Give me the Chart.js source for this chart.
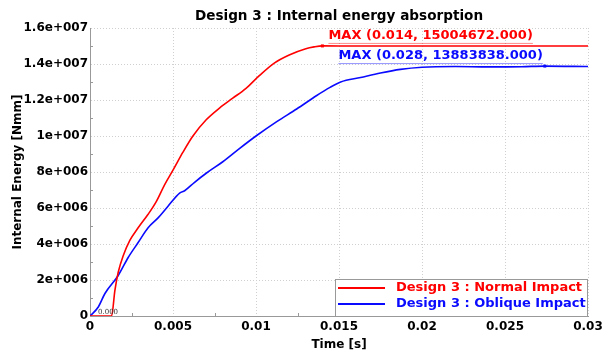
<!DOCTYPE html>
<html lang="en">
<head>
<meta charset="UTF-8">
<title>Design 3 : Internal energy absorption</title>
<script src="https://cdn.jsdelivr.net/npm/chart.js"></script>
<style>
  html, body { margin: 0; padding: 0; background: #fff; }
  #wrap { width: 602px; height: 356px; }
</style>
</head>
<body>
<div id="wrap"><canvas id="energyChart" width="602" height="356"></canvas></div>
<script>
// values (time in s, energy in Nmm)
const normalTime = [0, 0.0013, 0.0015, 0.0017, 0.002, 0.0024, 0.0029, 0.0035, 0.004, 0.0045, 0.005, 0.0056, 0.0062, 0.007, 0.0078, 0.0086, 0.0094, 0.0102, 0.0111, 0.012, 0.013, 0.0135, 0.014, 0.016, 0.02, 0.025, 0.03];
const normalEnergy = [0, 0, 1.43e6, 2.43e6, 3.35e6, 4.2e6, 4.9e6, 5.65e6, 6.37e6, 7.3e6, 8.1e6, 9.1e6, 10.0e6, 10.9e6, 11.55e6, 12.1e6, 12.65e6, 13.35e6, 14.05e6, 14.5e6, 14.85e6, 14.95e6, 15004672, 15.0e6, 15.0e6, 15.0e6, 15.0e6];

const obliqueTime = [0, 0.0005, 0.0009, 0.0017, 0.0023, 0.0029, 0.0035, 0.0041, 0.0047, 0.0054, 0.0057, 0.0063, 0.007, 0.008, 0.009, 0.01, 0.01125, 0.01245, 0.01366, 0.01446, 0.0151, 0.0163, 0.0175, 0.0187, 0.02, 0.022, 0.024, 0.026, 0.0274, 0.03];
const obliqueEnergy = [0, 0.5e6, 1.25e6, 2.25e6, 3.25e6, 4.08e6, 4.9e6, 5.45e6, 6.1e6, 6.83e6, 6.96e6, 7.43e6, 7.93e6, 8.57e6, 9.3e6, 10.0e6, 10.8e6, 11.5e6, 12.25e6, 12.7e6, 13.0e6, 13.25e6, 13.5e6, 13.7e6, 13.82e6, 13.86e6, 13.84e6, 13.85e6, 13883838, 13.86e6];

const seriesNames = ['Design 3 : Normal Impact', 'Design 3 : Oblique Impact'];
const maxLabels = ['MAX (0.014, 15004672.000)', 'MAX (0.028, 13883838.000)'];
const chartTitle = 'Design 3 : Internal energy absorption';

const xTicks = [0, 0.005, 0.01, 0.015, 0.02, 0.025, 0.03];
const xTickLabels = ['0', '0.005', '0.01', '0.015', '0.02', '0.025', '0.03'];
const yTicks = [0, 2e6, 4e6, 6e6, 8e6, 10e6, 12e6, 14e6, 16e6];
const yTickLabels = ['0', '2e+006', '4e+006', '6e+006', '8e+006', '1e+007', '1.2e+007', '1.4e+007', '1.6e+007'];

const FONT = 'DejaVu Sans, Verdana, sans-serif';
const colors = ['#ff0000', '#0a0aff'];

function toPoints(xs, ys) {
    return xs.map((x, i) => ({ x: x, y: ys[i] }));
}

// title centred over the plot area rather than the canvas
const plotTitlePlugin = {
    id: 'plotTitle',
    afterDraw(chart) {
        const ctx = chart.ctx;
        const area = chart.chartArea;
        ctx.save();
        ctx.font = 'bold 13.6px ' + FONT;
        ctx.fillStyle = '#000';
        ctx.textAlign = 'center';
        ctx.textBaseline = 'middle';
        ctx.fillText(chartTitle, (area.left + area.right) / 2, 16);
        ctx.restore();
    }
};

// max markers with underlined labels, plus the little "0.000" note at the origin
const maxLabelPlugin = {
    id: 'maxLabels',
    afterDatasetsDraw(chart) {
        const ctx = chart.ctx;
        const xs = chart.scales.x, ys = chart.scales.y;
        ctx.save();
        ctx.font = 'bold 13px ' + FONT;
        ctx.textBaseline = 'middle';
        chart.data.datasets.forEach((ds, i) => {
            let best = 0;
            ds.data.forEach((p, j) => { if (p.y > ds.data[best].y) best = j; });
            const px = xs.getPixelForValue(ds.data[best].x);
            const py = ys.getPixelForValue(ds.data[best].y);
            ctx.fillStyle = colors[i];
            ctx.fillRect(px - 1.5, py - 1.5, 3, 3);
            const text = maxLabels[i];
            const w = ctx.measureText(text).width;
            const left = i === 0 ? px + 6 : px - 2 - w;
            const ty = py - 10;
            ctx.textAlign = 'left';
            ctx.fillText(text, left, ty);
            ctx.globalAlpha = 0.45;
            ctx.fillRect(left, ty + 7, w, 1);
            ctx.globalAlpha = 1;
        });
        ctx.font = '7px DejaVu Serif, serif';
        ctx.fillStyle = '#333';
        ctx.textAlign = 'left';
        ctx.fillText('0.000', xs.getPixelForValue(0) + 8, ys.getPixelForValue(0) - 4);
        ctx.restore();
    }
};

// small minor ticks on the left and bottom axes
const minorTickPlugin = {
    id: 'minorTicks',
    afterDraw(chart) {
        const ctx = chart.ctx;
        const xs = chart.scales.x, ys = chart.scales.y;
        const area = chart.chartArea;
        ctx.save();
        ctx.strokeStyle = '#999';
        ctx.lineWidth = 1;
        ctx.beginPath();
        for (let i = 0; i < xTicks.length - 1; i++) {
            const x = Math.round(xs.getPixelForValue((xTicks[i] + xTicks[i + 1]) / 2)) + 0.5;
            ctx.moveTo(x, area.bottom);
            ctx.lineTo(x, area.bottom - 3);
        }
        for (let i = 0; i < yTicks.length - 1; i++) {
            const y = Math.round(ys.getPixelForValue((yTicks[i] + yTicks[i + 1]) / 2)) + 0.5;
            ctx.moveTo(area.left, y);
            ctx.lineTo(area.left + 3, y);
        }
        ctx.stroke();
        ctx.restore();
    }
};

// boxed legend in the bottom-right corner of the plot
const boxLegendPlugin = {
    id: 'boxLegend',
    afterDraw(chart) {
        const ctx = chart.ctx;
        const area = chart.chartArea;
        const w = 252, h = 37;
        const x0 = area.right - w - 1, y0 = area.bottom - h;
        ctx.save();
        ctx.fillStyle = '#fff';
        ctx.fillRect(x0, y0, w, h);
        ctx.strokeStyle = '#999';
        ctx.lineWidth = 1;
        ctx.strokeRect(x0 + 0.5, y0 + 0.5, w, h);
        ctx.font = 'bold 13px ' + FONT;
        ctx.textBaseline = 'middle';
        ctx.textAlign = 'left';
        chart.data.datasets.forEach((ds, i) => {
            const y = y0 + 9 + i * 16;
            ctx.strokeStyle = colors[i];
            ctx.lineWidth = 2;
            ctx.beginPath();
            ctx.moveTo(x0 + 3, y);
            ctx.lineTo(x0 + 50, y);
            ctx.stroke();
            ctx.fillStyle = colors[i];
            ctx.fillText(ds.label, x0 + 61, y);
        });
        ctx.restore();
    }
};

new Chart(document.getElementById('energyChart'), {
    type: 'scatter',
    data: {
        datasets: [
            {
                label: seriesNames[0],
                data: toPoints(normalTime, normalEnergy),
                showLine: true,
                borderColor: colors[0],
                backgroundColor: colors[0],
                borderWidth: 1.6,
                pointRadius: 0,
                cubicInterpolationMode: 'monotone'
            },
            {
                label: seriesNames[1],
                data: toPoints(obliqueTime, obliqueEnergy),
                showLine: true,
                borderColor: colors[1],
                backgroundColor: colors[1],
                borderWidth: 1.6,
                pointRadius: 0,
                cubicInterpolationMode: 'monotone'
            }
        ]
    },
    options: {
        responsive: false,
        animation: false,
        devicePixelRatio: 1,
        layout: { padding: { left: 0, right: 0, top: 28, bottom: 0 } },
        plugins: {
            legend: { display: false },
            tooltip: { enabled: false },
            title: { display: false }
        },
        scales: {
            x: {
                type: 'linear',
                min: 0,
                max: 0.03,
                afterBuildTicks(scale) { scale.ticks = xTicks.map(v => ({ value: v })); },
                afterFit(scale) {
                    scale.height = 40;
                    scale.paddingRight = 14;
                    scale.paddingLeft = 0;
                },
                ticks: {
                    color: '#000',
                    padding: 4,
                    maxRotation: 0,
                    font: { family: FONT, size: 12, weight: 'bold' },
                    callback: (v, i) => xTickLabels[i]
                },
                grid: { color: '#d0d0d0', drawTicks: false },
                border: { display: true, color: '#999', width: 1, dash: [1, 2] },
                title: {
                    display: true,
                    text: 'Time [s]',
                    color: '#000',
                    font: { family: FONT, size: 12, weight: 'bold' },
                    padding: { top: 0, bottom: 4 }
                }
            },
            y: {
                min: 0,
                max: 1.6e7,
                afterBuildTicks(scale) { scale.ticks = yTicks.map(v => ({ value: v })); },
                afterFit(scale) { scale.width = 90; },
                ticks: {
                    color: '#000',
                    padding: 2,
                    font: { family: FONT, size: 12, weight: 'bold' },
                    callback: (v, i) => yTickLabels[i]
                },
                grid: { color: '#d0d0d0', drawTicks: false },
                border: { display: true, color: '#999', width: 1, dash: [1, 2] },
                title: {
                    display: true,
                    text: 'Internal Energy [Nmm]',
                    color: '#000',
                    font: { family: FONT, size: 12, weight: 'bold' },
                    padding: { top: 11, bottom: 0 }
                }
            }
        }
    },
    plugins: [plotTitlePlugin, maxLabelPlugin, minorTickPlugin, boxLegendPlugin]
});
</script>
</body>
</html>
